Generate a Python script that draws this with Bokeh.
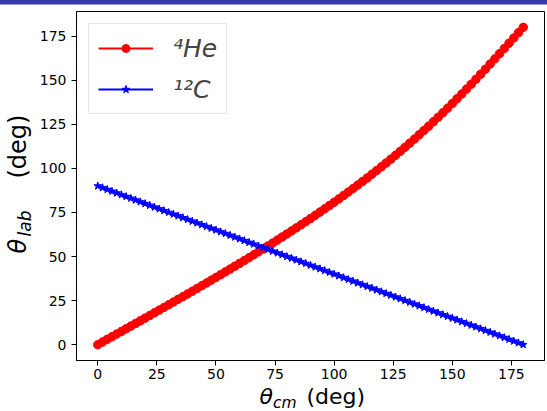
import math
from bokeh.plotting import figure
from bokeh.layouts import row, column
from bokeh.models import Label, Legend, LegendItem, FixedTicker, Range1d, Spacer
from bokeh.embed import file_html
from bokeh.resources import INLINE

# ---- data ----
theta_cm = [0, 2, 4, 6, 8, 10, 12, 14, 16, 18, 20, 22, 24, 26, 28, 30, 32, 34, 36, 38,
            40, 42, 44, 46, 48, 50, 52, 54, 56, 58, 60, 62, 64, 66, 68, 70, 72, 74, 76, 78,
            80, 82, 84, 86, 88, 90, 92, 94, 96, 98, 100, 102, 104, 106, 108, 110, 112, 114,
            116, 118, 120, 122, 124, 126, 128, 130, 132, 134, 136, 138, 140, 142, 144, 146,
            148, 150, 152, 154, 156, 158, 160, 162, 164, 166, 168, 170, 172, 174, 176, 178, 180]

he_lab = [0.00, 1.50, 3.00, 4.50, 6.00, 7.50, 9.01, 10.51, 12.02, 13.53, 15.04, 16.55,
          18.07, 19.59, 21.11, 22.63, 24.16, 25.69, 27.23, 28.77, 30.31, 31.87, 33.42,
          34.98, 36.55, 38.12, 39.71, 41.29, 42.89, 44.49, 46.10, 47.72, 49.35, 50.99,
          52.64, 54.30, 55.97, 57.65, 59.34, 61.04, 62.76, 64.49, 66.24, 68.00, 69.77,
          71.57, 73.37, 75.20, 77.04, 78.91, 80.79, 82.69, 84.62, 86.57, 88.54, 90.53,
          92.55, 94.59, 96.67, 98.77, 100.89, 103.05, 105.24, 107.46, 109.71, 112.00,
          114.32, 116.67, 119.06, 121.49, 123.95, 126.45, 128.98, 131.56, 134.17, 136.81,
          139.50, 142.22, 144.97, 147.76, 150.57, 153.42, 156.30, 159.20, 162.13, 165.08,
          168.04, 171.02, 174.01, 177.00, 180.00]

c_lab = [90, 89, 88, 87, 86, 85, 84, 83, 82, 81, 80, 79, 78, 77, 76, 75, 74, 73, 72, 71,
         70, 69, 68, 67, 66, 65, 64, 63, 62, 61, 60, 59, 58, 57, 56, 55, 54, 53, 52, 51,
         50, 49, 48, 47, 46, 45, 44, 43, 42, 41, 40, 39, 38, 37, 36, 35, 34, 33, 32, 31,
         30, 29, 28, 27, 26, 25, 24, 23, 22, 21, 20, 19, 18, 17, 16, 15, 14, 13, 12, 11,
         10, 9, 8, 7, 6, 5, 4, 3, 2, 1, 0]

tick_values = [0, 25, 50, 75, 100, 125, 150, 175]
series_labels = ["\u2074He", "\u00b9\u00b2C"]

FONT = "DejaVu Sans"


def blank_fig(w, h, xr, yr):
    f = figure(width=w, height=h, output_backend="svg", toolbar_location=None,
               x_range=Range1d(*xr), y_range=Range1d(*yr),
               x_axis_type=None, y_axis_type=None,
               min_border_left=0, min_border_right=0, min_border_top=0,
               min_border_bottom=0)
    f.outline_line_color = None
    f.background_fill_color = "white"
    f.border_fill_color = "white"
    f.xgrid.visible = False
    f.ygrid.visible = False
    return f


# ---- main plot ----
p = figure(width=513, height=379, output_backend="svg", toolbar_location=None,
           x_range=Range1d(-9, 189), y_range=Range1d(-9, 189),
           min_border_left=42, min_border_right=3, min_border_top=6,
           min_border_bottom=24)
p.background_fill_color = "white"
p.border_fill_color = "white"
p.outline_line_color = "black"
p.outline_line_width = 1
p.xgrid.visible = False
p.ygrid.visible = False

for ax in (p.xaxis[0], p.yaxis[0]):
    ax.ticker = FixedTicker(ticks=tick_values)
    ax.major_tick_out = 5
    ax.major_tick_in = 0
    ax.minor_tick_out = 0
    ax.minor_tick_in = 0
    ax.major_tick_line_color = "black"
    ax.axis_line_color = "black"
    ax.major_label_text_font = FONT
    ax.major_label_text_font_size = "14px"
    ax.major_label_text_color = "black"
p.xaxis[0].major_label_standoff = 3
p.yaxis[0].major_label_standoff = 5

r1 = p.line(theta_cm, he_lab, line_color="red", line_width=2)
r2 = p.scatter(theta_cm, he_lab, marker="circle", size=8.5,
               fill_color="red", line_color="red")
b1 = p.line(theta_cm, c_lab, line_color="blue", line_width=2)
b2 = p.scatter(theta_cm, c_lab, marker="star", size=8,
               fill_color="blue", line_color="blue")

legend = Legend(items=[LegendItem(label=series_labels[0], renderers=[r1, r2]),
                       LegendItem(label=series_labels[1], renderers=[b1, b2])],
                location="top_left", margin=12, padding=9, spacing=11,
                glyph_width=55, glyph_height=20, label_height=30,
                label_standoff=20, label_text_font=FONT,
                label_text_font_style="italic", label_text_font_size="25px",
                label_text_baseline="middle",
                border_line_color="#cccccc", border_line_width=1,
                background_fill_color="white", background_fill_alpha=0.8)
p.add_layout(legend)

# ---- slide bar at the very top ----
top = Spacer(width=547, height=5,
             styles={"background-color": "#3636a8",
                     "border-bottom": "1px solid #8ea4d8",
                     "box-sizing": "border-box"})

lab_common = dict(text_font=FONT, text_baseline="alphabetic", text_align="left",
                  text_color="black")

# ---- y axis label panel (left), coordinates = page pixels (y up) ----
left = blank_fig(34, 406, (0, 34), (0, 406))
ang = math.pi / 2
left.add_layout(Label(x=17.5, y=158, angle=ang, text="\u03b8", text_font_style="italic",
                      text_font_size="24px", **lab_common))
left.add_layout(Label(x=24.5, y=175, angle=ang, text="lab", text_font_style="italic",
                      text_font_size="17px", **lab_common))
left.add_layout(Label(x=17.5, y=233, angle=ang, text="(deg)", text_font_size="24px",
                      **lab_common))

# ---- x axis label panel (bottom), frame aligned with main frame ----
bottom = blank_fig(513, 27, (76, 544), (0, 27))
bottom.add_layout(Label(x=259, y=15, text="\u03b8", text_font_style="italic",
                        text_font_size="22px", **lab_common))
bottom.add_layout(Label(x=272.5, y=8.5, text="cm", text_font_style="italic",
                        text_font_size="15.5px", **lab_common))
bottom.add_layout(Label(x=306, y=15, text="(deg)", text_font_size="22px",
                        **lab_common))

layout = column(top, row(left, column(p, bottom)))

open("out.html", "w").write(file_html(layout, INLINE))
